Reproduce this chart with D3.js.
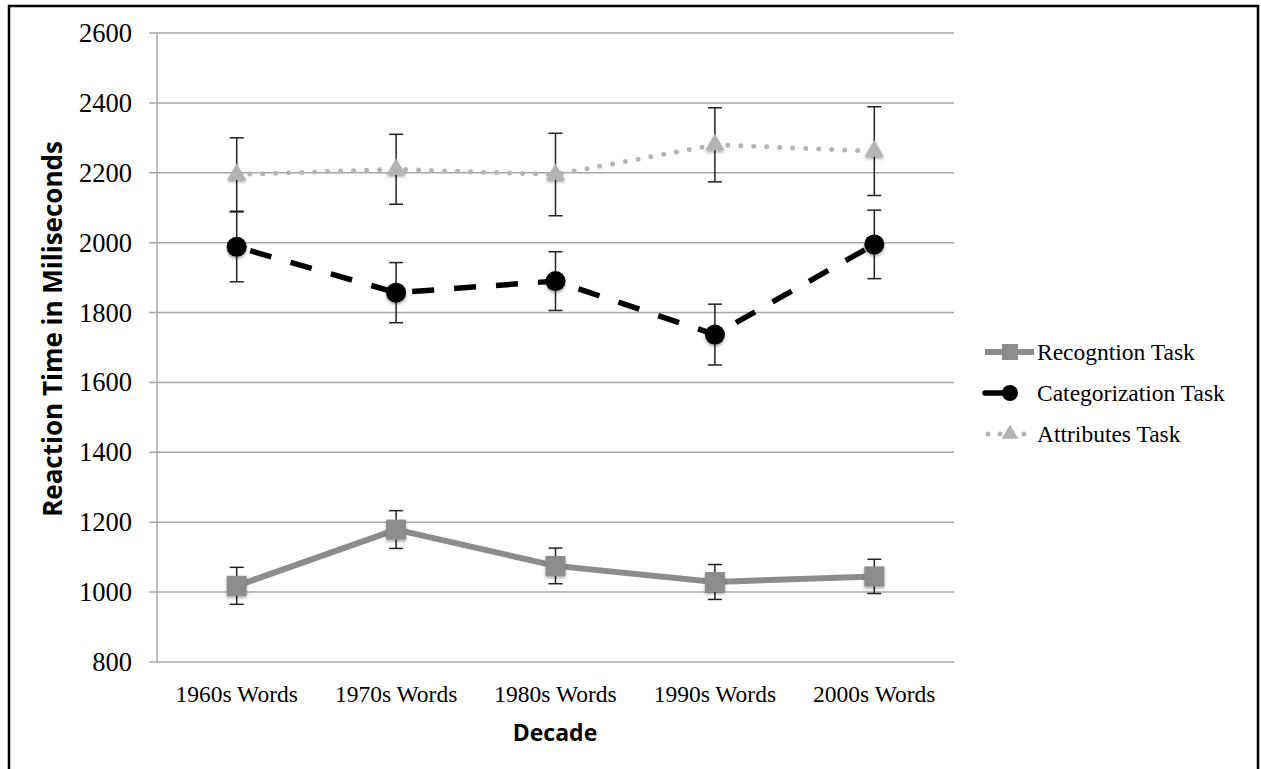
<!DOCTYPE html>
<html>
<head>
<meta charset="utf-8">
<script src="https://cdn.jsdelivr.net/npm/d3@7"></script>
<style>
  html, body { margin: 0; padding: 0; background: #fff; }
  svg { display: block; }
</style>
</head>
<body>
<svg id="chart" width="1261" height="769"></svg>
<script>
const categories = ["1960s Words", "1970s Words", "1980s Words", "1990s Words", "2000s Words"];
const yTicks = [800, 1000, 1200, 1400, 1600, 1800, 2000, 2200, 2400, 2600];

const recognitionValues = [1018, 1179, 1075, 1029, 1045];
const recognitionErrors = [53, 54, 51, 50, 49];
const categorizationValues = [1988, 1857, 1890, 1737, 1995];
const categorizationErrors = [100, 86, 84, 87, 98];
const attributesValues = [2195, 2210, 2195, 2280, 2262];
const attributesErrors = [105, 100, 118, 106, 127];

const seriesNames = ["Recogntion Task", "Categorization Task", "Attributes Task"];

const svg = d3.select("#chart");
const plotLeft = 157, plotRight = 954, plotTop = 33, plotBottom = 662;

// defs: shadow
const defs = svg.append("defs");
const f = defs.append("filter").attr("id", "shadow").attr("x", "-50%").attr("y", "-50%").attr("width", "200%").attr("height", "200%");
f.append("feDropShadow").attr("dx", 0).attr("dy", 2).attr("stdDeviation", 1.8).attr("flood-color", "#000").attr("flood-opacity", 0.35);

// frame
svg.append("rect").attr("x", 9).attr("y", 6).attr("width", 1249).attr("height", 800)
  .attr("fill", "none").attr("stroke", "#000").attr("stroke-width", 2.5);

const x = d3.scaleBand().domain(categories).range([plotLeft, plotRight]).padding(0);
const y = d3.scaleLinear().domain([800, 2600]).range([plotBottom, plotTop]);
const cx = c => x(c) + x.bandwidth() / 2;

// gridlines
svg.append("g").selectAll("line").data(yTicks).join("line")
  .attr("x1", plotLeft - 8).attr("x2", plotRight)
  .attr("y1", d => y(d)).attr("y2", d => y(d))
  .attr("stroke", "#a8a8a8").attr("stroke-width", 1.5);
// y axis line
svg.append("line").attr("x1", plotLeft).attr("x2", plotLeft).attr("y1", plotTop).attr("y2", plotBottom)
  .attr("stroke", "#a8a8a8").attr("stroke-width", 1.5);

// y tick labels
svg.append("g").selectAll("text").data(yTicks).join("text")
  .attr("x", 132).attr("y", d => y(d)).attr("dy", "0.34em")
  .attr("text-anchor", "end")
  .attr("font-family", "Liberation Serif, Times New Roman, serif")
  .attr("font-size", 26.5).attr("fill", "#000")
  .text(d => d);

// x labels
svg.append("g").selectAll("text").data(categories).join("text")
  .attr("x", d => cx(d)).attr("y", 702)
  .attr("text-anchor", "middle")
  .attr("font-family", "Liberation Serif, Times New Roman, serif")
  .attr("font-size", 23.5).attr("fill", "#000")
  .text(d => d);

// axis titles
svg.append("text").attr("x", 555).attr("y", 741)
  .attr("text-anchor", "middle")
  .attr("font-family", "Open Sans, sans-serif").attr("font-weight", "bold")
  .attr("font-size", 23).attr("fill", "#000").text("Decade");
svg.append("text").attr("transform", "translate(62,329) rotate(-90)")
  .attr("text-anchor", "middle")
  .attr("font-family", "Open Sans, sans-serif").attr("font-weight", "bold")
  .attr("font-size", 26).attr("fill", "#000").text("Reaction Time in Miliseconds");

const line = d3.line().x((d, i) => cx(categories[i])).y(d => y(d));

function errorBars(vals, errs) {
  const g = svg.append("g").attr("stroke", "#222").attr("stroke-width", 1.5).attr("fill", "none");
  vals.forEach((v, i) => {
    const xc = cx(categories[i]);
    const y1 = y(v + errs[i]), y2 = y(v - errs[i]);
    g.append("line").attr("x1", xc).attr("x2", xc).attr("y1", y1).attr("y2", y2);
    g.append("line").attr("x1", xc - 7).attr("x2", xc + 7).attr("y1", y1).attr("y2", y1);
    g.append("line").attr("x1", xc - 7).attr("x2", xc + 7).attr("y1", y2).attr("y2", y2);
  });
}

// error bars (drawn beneath markers)
errorBars(attributesValues, attributesErrors);
errorBars(categorizationValues, categorizationErrors);
errorBars(recognitionValues, recognitionErrors);

// lines
svg.append("path").datum(attributesValues).attr("d", line)
  .attr("fill", "none").attr("stroke", "#b5b5b5").attr("stroke-width", 5)
  .attr("stroke-linecap", "round").attr("stroke-dasharray", "0 13");
svg.append("path").datum(categorizationValues).attr("d", line)
  .attr("fill", "none").attr("stroke", "#000").attr("stroke-width", 5.5)
  .attr("stroke-dasharray", "22 20").attr("stroke-dashoffset", -14);
svg.append("path").datum(recognitionValues).attr("d", line)
  .attr("fill", "none").attr("stroke", "#8c8c8c").attr("stroke-width", 6);

// markers
const tri = d3.symbol().type(d3.symbolTriangle).size(160);
svg.append("g").selectAll("path").data(attributesValues).join("path")
  .attr("d", tri)
  .attr("transform", (d, i) => `translate(${cx(categories[i])},${y(d)})`)
  .attr("fill", "#b3b3b3").attr("filter", "url(#shadow)");
svg.append("g").selectAll("circle").data(categorizationValues).join("circle")
  .attr("cx", (d, i) => cx(categories[i])).attr("cy", d => y(d)).attr("r", 10)
  .attr("fill", "#000").attr("filter", "url(#shadow)");
svg.append("g").selectAll("rect").data(recognitionValues).join("rect")
  .attr("x", (d, i) => cx(categories[i]) - 10).attr("y", d => y(d) - 10)
  .attr("width", 20).attr("height", 20)
  .attr("fill", "#8c8c8c").attr("filter", "url(#shadow)");

// legend
const legend = svg.append("g");
const legY = [352, 393, 434];
// Recognition
legend.append("line").attr("x1", 985).attr("x2", 1034).attr("y1", legY[0]).attr("y2", legY[0])
  .attr("stroke", "#8c8c8c").attr("stroke-width", 6);
legend.append("rect").attr("x", 1002).attr("y", legY[0] - 8).attr("width", 16).attr("height", 16).attr("fill", "#8c8c8c");
// Categorization
legend.append("line").attr("x1", 985).attr("x2", 1010).attr("y1", legY[1]).attr("y2", legY[1])
  .attr("stroke", "#000").attr("stroke-width", 5.5).attr("stroke-linecap", "round");
legend.append("circle").attr("cx", 1010).attr("cy", legY[1]).attr("r", 8).attr("fill", "#000");
// Attributes
legend.append("line").attr("x1", 988).attr("x2", 1030).attr("y1", legY[2]).attr("y2", legY[2])
  .attr("stroke", "#b5b5b5").attr("stroke-width", 5).attr("stroke-linecap", "round").attr("stroke-dasharray", "0 12");
legend.append("path").attr("d", d3.symbol().type(d3.symbolTriangle).size(120))
  .attr("transform", `translate(1010,${legY[2]})`).attr("fill", "#b3b3b3");

legend.selectAll("text").data(seriesNames).join("text")
  .attr("x", 1037).attr("y", (d, i) => legY[i]).attr("dy", "0.33em")
  .attr("font-family", "Liberation Serif, Times New Roman, serif")
  .attr("font-size", 23.5).attr("fill", "#000")
  .text(d => d);
</script>
</body>
</html>
